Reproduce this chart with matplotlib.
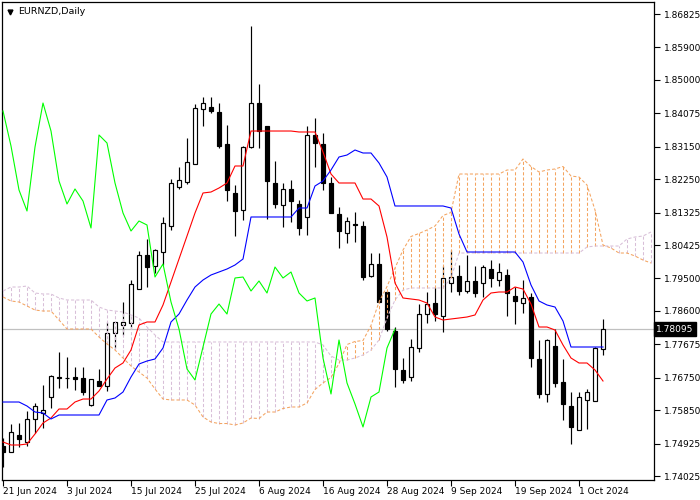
import matplotlib
matplotlib.use('Agg')
import matplotlib.pyplot as plt
import numpy as np
from matplotlib.patches import Rectangle
from matplotlib.transforms import blended_transform_factory

# EURNZD daily candles, 21 Jun 2024 .. 4 Oct 2024
opens = [1.74856, 1.74690, 1.75161, 1.74967, 1.75604, 1.75771, 1.76214, 1.76740, 1.76740, 1.76768,
         1.76740, 1.75992, 1.76657, 1.76519, 1.77987, 1.78209, 1.78264, 1.79206, 1.80148, 1.79843,
         1.80231, 1.80951, 1.82032, 1.82171, 1.82669, 1.84193, 1.84248, 1.84110, 1.83223, 1.81866,
         1.81395, 1.83140, 1.84359, 1.83722, 1.82143, 1.81533, 1.81977, 1.81561, 1.81201, 1.83473,
         1.83223, 1.82143, 1.81284, 1.80757, 1.81007, 1.80951, 1.79566, 1.79899, 1.79123, 1.78042,
         1.76962, 1.76768, 1.77571, 1.78513, 1.78818, 1.78458, 1.79372, 1.79566, 1.79151, 1.79428,
         1.79372, 1.79760, 1.79455, 1.79594, 1.79012, 1.78818, 1.78984, 1.77267, 1.76297, 1.77627,
         1.76629, 1.75964, 1.75300, 1.76131, 1.76103, 1.77544]
highs = [1.75078, 1.75466, 1.75493, 1.75826, 1.76048, 1.76546, 1.76823, 1.77461, 1.77322, 1.77045,
         1.77045, 1.76713, 1.76990, 1.78292, 1.78292, 1.78846, 1.79455, 1.80259, 1.80591, 1.80314,
         1.81201, 1.82254, 1.82586, 1.83390, 1.84332, 1.84525, 1.84525, 1.84359, 1.83750, 1.82087,
         1.83168, 1.86493, 1.84886, 1.83722, 1.82752, 1.82143, 1.82226, 1.81672, 1.83722, 1.83944,
         1.83528, 1.82309, 1.81478, 1.81201, 1.81339, 1.81090, 1.80203, 1.80203, 1.79151, 1.78153,
         1.77294, 1.77821, 1.78790, 1.79123, 1.79261, 1.79843, 1.80286, 1.79871, 1.80148, 1.79843,
         1.79871, 1.80009, 1.79926, 1.79760, 1.79261, 1.79455, 1.79095, 1.77793, 1.77821, 1.78098,
         1.77267, 1.76352, 1.76352, 1.76435, 1.77599, 1.78375]
lows = [1.74274, 1.74690, 1.74829, 1.74856, 1.75216, 1.75355, 1.75909, 1.76463, 1.76463, 1.76408,
        1.76269, 1.75964, 1.76519, 1.76380, 1.77571, 1.77932, 1.78126, 1.79206, 1.79261, 1.79649,
        1.79871, 1.80841, 1.81977, 1.82115, 1.82669, 1.83722, 1.84082, 1.83112, 1.81644, 1.80674,
        1.81118, 1.83112, 1.83112, 1.81145, 1.81450, 1.80924, 1.81062, 1.80702, 1.80702, 1.82586,
        1.81949, 1.81312, 1.80342, 1.80480, 1.80508, 1.79455, 1.79538, 1.78846, 1.78042, 1.76491,
        1.76602, 1.76657, 1.77461, 1.78264, 1.78319, 1.78015, 1.79123, 1.79040, 1.79095, 1.78984,
        1.78984, 1.79261, 1.79289, 1.78458, 1.78236, 1.78541, 1.77045, 1.76186, 1.76075, 1.76491,
        1.75577, 1.74912, 1.75300, 1.75327, 1.76103, 1.77377]
closes = [1.74690, 1.75244, 1.75050, 1.75604, 1.75964, 1.75854, 1.76796, 1.76768, 1.76750, 1.76713,
          1.76352, 1.76713, 1.76519, 1.77987, 1.78292, 1.78292, 1.79345, 1.80148, 1.79815, 1.80286,
          1.81035, 1.82143, 1.82226, 1.82725, 1.84221, 1.84359, 1.84138, 1.83168, 1.81949, 1.81367,
          1.83140, 1.84359, 1.83583, 1.82198, 1.81561, 1.81977, 1.81644, 1.80896, 1.83473, 1.83251,
          1.82143, 1.81312, 1.80813, 1.81090, 1.80979, 1.79538, 1.79899, 1.78846, 1.78098, 1.76990,
          1.76685, 1.77599, 1.78513, 1.78790, 1.78513, 1.79511, 1.79538, 1.79151, 1.79428, 1.79095,
          1.79815, 1.79511, 1.79677, 1.79095, 1.78874, 1.78957, 1.77294, 1.76297, 1.77793, 1.76602,
          1.76020, 1.75383, 1.76214, 1.76352, 1.77571, 1.78095]

# Ichimoku lines
tenkan = [1.74967, 1.74884, 1.74884, 1.74912, 1.75189, 1.75493, 1.75632, 1.75881, 1.75881, 1.76075,
          1.76158, 1.76158, 1.76380, 1.76713, 1.77017, 1.77156, 1.77516, 1.78209, 1.78292, 1.78292,
          1.78763, 1.79400, 1.80037, 1.80674, 1.81312, 1.81866, 1.81893, 1.82004, 1.82143, 1.82614,
          1.82614, 1.83583, 1.83583, 1.83583, 1.83583, 1.83583, 1.83583, 1.83556, 1.83556, 1.83556,
          1.83002, 1.82392, 1.82143, 1.82143, 1.82143, 1.81699, 1.81699, 1.81506, 1.80647, 1.79372,
          1.78957, 1.78929, 1.78901, 1.78818, 1.78430, 1.78347, 1.78375, 1.78402, 1.78430, 1.78486,
          1.78901, 1.79095, 1.79123, 1.79123, 1.79261, 1.79206, 1.78790, 1.78153, 1.78153, 1.78070,
          1.77655, 1.77294, 1.77156, 1.77156, 1.76962, 1.76657]
kijun = [1.76075, 1.76075, 1.76075, 1.75964, 1.75798, 1.75771, 1.75604, 1.75715, 1.75715, 1.75715,
         1.75715, 1.75715, 1.75715, 1.76131, 1.76186, 1.76352, 1.76768, 1.77128, 1.77211, 1.77267,
         1.77571, 1.78292, 1.78513, 1.78901, 1.79261, 1.79455, 1.79594, 1.79677, 1.79760, 1.79871,
         1.80037, 1.81201, 1.81201, 1.81201, 1.81201, 1.81201, 1.81201, 1.81450, 1.81450, 1.82060,
         1.82198, 1.82503, 1.82863, 1.82918, 1.83057, 1.82974, 1.82974, 1.82697, 1.82309, 1.81506,
         1.81506, 1.81506, 1.81506, 1.81506, 1.81506, 1.81506, 1.81450, 1.80730, 1.80231, 1.80231,
         1.80231, 1.80231, 1.80231, 1.80231, 1.80231, 1.79954, 1.79317, 1.78874, 1.78763, 1.78707,
         1.78319, 1.77599, 1.77599, 1.77599, 1.77599, 1.77599]
span_a = [1.78984, 1.78874, 1.78846, 1.78735, 1.78624, 1.78596, 1.78596, 1.78347, 1.78098, 1.78098,
          1.78098, 1.78098, 1.77876, 1.77682, 1.77516, 1.77294, 1.77073, 1.76906, 1.76740, 1.76435,
          1.76158, 1.76131, 1.76131, 1.76131, 1.75992, 1.75660, 1.75521, 1.75479, 1.75479, 1.75438,
          1.75493, 1.75632, 1.75618, 1.75798, 1.75798, 1.75895, 1.75937, 1.75937, 1.76048, 1.76422,
          1.76602, 1.76754, 1.77142, 1.77668, 1.77752, 1.77779, 1.78195, 1.78846, 1.79275, 1.79788,
          1.80286, 1.80661, 1.80744, 1.80841, 1.80951, 1.81242, 1.81326, 1.82392, 1.82392, 1.82392,
          1.82392, 1.82392, 1.82392, 1.82503, 1.82503, 1.82808, 1.82600, 1.82448, 1.82503, 1.82531,
          1.82600, 1.82337, 1.82309, 1.82087, 1.81395, 1.80425, 1.80342, 1.80203, 1.80203, 1.80120,
          1.80009, 1.79926]
span_b = [1.79151, 1.79261, 1.79261, 1.79289, 1.79095, 1.79068, 1.79068, 1.78957, 1.78901, 1.78901,
          1.78901, 1.78901, 1.78707, 1.78624, 1.78596, 1.78568, 1.78486, 1.78402, 1.78153, 1.77932,
          1.77738, 1.77738, 1.77738, 1.77738, 1.77738, 1.77738, 1.77738, 1.77738, 1.77738, 1.77738,
          1.77738, 1.77738, 1.77738, 1.77738, 1.77738, 1.77738, 1.77738, 1.77738, 1.77738, 1.77738,
          1.77655, 1.77350, 1.77239, 1.77239, 1.77294, 1.77377, 1.77516, 1.77793, 1.78402, 1.78901,
          1.79178, 1.79234, 1.79234, 1.79234, 1.79234, 1.79234, 1.79511, 1.80203, 1.80203, 1.80203,
          1.80203, 1.80203, 1.80203, 1.80203, 1.80203, 1.80203, 1.80203, 1.80203, 1.80203, 1.80203,
          1.80203, 1.80203, 1.80203, 1.80370, 1.80397, 1.80397, 1.80397, 1.80397, 1.80591, 1.80647,
          1.80674, 1.80785]
chikou_shift = 26

price_ticks = [1.86825, 1.85900, 1.85000, 1.84075, 1.83150, 1.82250, 1.81325, 1.80425,
               1.79500, 1.78600, 1.77675, 1.76750, 1.75850, 1.74925, 1.74025]
date_pos = [0, 8, 16, 24, 32, 40, 48, 56, 64, 72]
date_labels = ['21 Jun 2024', '3 Jul 2024', '15 Jul 2024', '25 Jul 2024', '6 Aug 2024',
               '16 Aug 2024', '28 Aug 2024', '9 Sep 2024', '19 Sep 2024', '1 Oct 2024']
last_price = 1.78095

# MT4 colours
col_tenkan = '#ff0000'
col_kijun = '#0000ff'
col_chikou = '#00ff00'
col_span_a = '#f4a460'   # sandy brown
col_span_b = '#d8bfd8'   # thistle

plt.rcParams['font.family'] = ['DejaVu Sans']
fig = plt.figure(figsize=(7, 5), dpi=100, facecolor='white')
ax = fig.add_axes([2 / 700, 20 / 500, 652 / 700, 478 / 500])

n = len(opens)
xs = np.arange(n)

# current price line (behind everything)
ax.axhline(last_price, color='#c0c0c0', lw=0.9, zorder=1)

# candles
body_w = 0.5
for i in range(n):
    o, h, l, c = opens[i], highs[i], lows[i], closes[i]
    ax.vlines(i, l, h, color='black', lw=0.85, zorder=2)
    bull = c >= o
    ax.add_patch(Rectangle((i - body_w / 2, min(o, c)), body_w, abs(c - o),
                           facecolor='white' if bull else 'black',
                           edgecolor='black', lw=0.85, zorder=3))

# Ichimoku cloud: dotted vertical strokes between the spans
xc = np.arange(len(span_a))
dots = (0, (3, 2))
for i in xc:
    a, b = span_a[i], span_b[i]
    col = col_span_a if a >= b else col_span_b
    ax.vlines(i, min(a, b), max(a, b), color=col, lw=0.75, linestyles=[dots], zorder=4)
ax.plot(xc, span_a, color=col_span_a, lw=0.75, ls=dots, zorder=4)
ax.plot(xc, span_b, color=col_span_b, lw=0.75, ls=dots, zorder=4)

# tenkan / kijun / chikou
ax.plot(xs, tenkan, color=col_tenkan, lw=0.8, zorder=5)
ax.plot(xs, kijun, color=col_kijun, lw=0.8, zorder=5)
ax.plot(xs[:n - chikou_shift], closes[chikou_shift:], color=col_chikou, lw=0.8, zorder=5)

# scales: 8 px per bar, price scale fixed to the chart window
ax.set_xlim(-0.125, 81.375)
ax.set_ylim(1.739142, 1.871575)

ax.yaxis.tick_right()
ax.set_yticks(price_ticks)
ax.set_yticklabels(['%.5f' % p for p in price_ticks])
ax.tick_params(axis='y', direction='out', length=4, width=0.8, labelsize=6.5, pad=3)
ax.set_xticks(date_pos)
ax.set_xticklabels(date_labels)
ax.tick_params(axis='x', direction='out', length=4, width=0.8, labelsize=6.5, pad=1)
for lab in ax.get_xticklabels():
    lab.set_ha('left')

for sp in ax.spines.values():
    sp.set_linewidth(0.9)
    sp.set_color('black')

# last price tag on the scale
trans = blended_transform_factory(ax.transAxes, ax.transData)
ax.text(1.0035, last_price, '%.5f' % last_price, transform=trans, ha='left', va='center',
        fontsize=6.5, color='white', zorder=10, clip_on=False,
        bbox=dict(boxstyle='square,pad=0.25', facecolor='black', edgecolor='black'))

# symbol caption
ax.plot([8 / 652], [1 - 10 / 478], marker='v', ms=3.5, color='black',
        transform=ax.transAxes, clip_on=False, zorder=10)
ax.text(16 / 652, 1 - 10 / 478, 'EURNZD,Daily', transform=ax.transAxes,
        ha='left', va='center', fontsize=6.8, color='black', zorder=10)

fig.savefig('out.png', dpi=100, facecolor='white')
